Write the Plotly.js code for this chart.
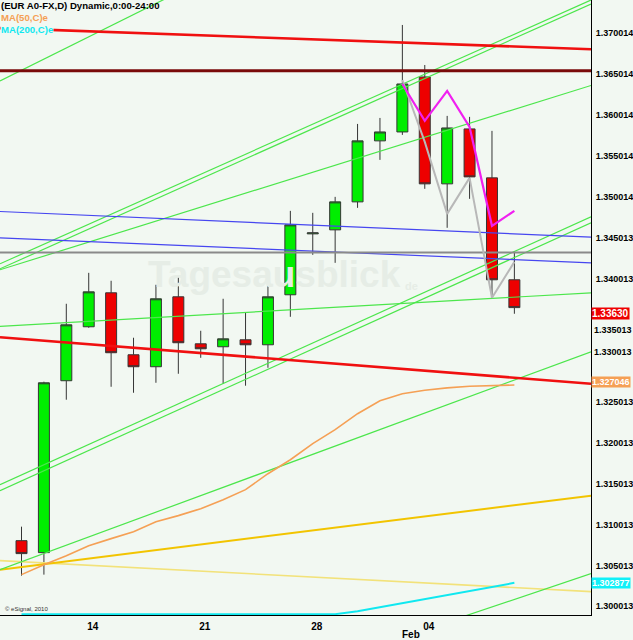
<!DOCTYPE html>
<html>
<head>
<meta charset="utf-8">
<script src="https://cdn.plot.ly/plotly-3.0.1.min.js"></script>
<style>html,body{margin:0;padding:0;background:#f2f8f2;}#chart{width:633px;height:640px;}</style>
</head>
<body>
<div id="chart"></div>
<script>
// ---- Data ----
const days = ["Jan 11","Jan 12","Jan 13","Jan 14","Jan 17","Jan 18","Jan 19","Jan 20","Jan 21","Jan 24","Jan 25","Jan 26","Jan 27","Jan 28","Jan 31","Feb 01","Feb 02","Feb 03","Feb 04","Feb 07","Feb 08","Feb 09","Feb 10"];
const openP  = [1.30803,1.30657,1.32757,1.33416,1.33831,1.33074,1.32928,1.33782,1.33208,1.33172,1.33257,1.33196,1.33807,1.34551,1.34600,1.34942,1.35687,1.35796,1.36468,1.35162,1.35833,1.35235,1.33990];
const highP  = [1.30974,1.32745,1.33697,1.34075,1.33978,1.33282,1.33929,1.34039,1.33367,1.33758,1.33587,1.33965,1.34832,1.34808,1.35003,1.35894,1.35967,1.37103,1.36614,1.35992,1.35980,1.35809,1.34332];
const lowP   = [1.30376,1.30388,1.32525,1.33404,1.32683,1.32610,1.32732,1.32842,1.33037,1.32720,1.32696,1.32915,1.33538,1.34295,1.34197,1.34869,1.35455,1.35760,1.35101,1.34625,1.34979,1.33758,1.33575];
const closeP = [1.30645,1.32732,1.33440,1.33843,1.33099,1.32928,1.33758,1.33221,1.33147,1.33269,1.33196,1.33782,1.34661,1.34563,1.34942,1.35687,1.35796,1.36382,1.35162,1.35845,1.35247,1.33990,1.33650];

const ma50  = [1.30388,1.30510,1.30620,1.30742,1.30828,1.30913,1.31035,1.31109,1.31194,1.31304,1.31426,1.31621,1.31792,1.31988,1.32159,1.32354,1.32513,1.32598,1.32640,1.32670,1.32690,1.32700,1.327046];
const ma200 = [1.29905,1.29905,1.29905,1.29905,1.29905,1.29905,1.29905,1.29905,1.29905,1.29905,1.29905,1.29905,1.29905,1.29905,1.29905,1.29940,1.29989,1.30040,1.30089,1.30141,1.30191,1.30240,1.302877];

const zigDays = ["Feb 03","Feb 04","Feb 07","Feb 08","Feb 09","Feb 10"];
const zigUpper = [1.36382,1.35931,1.36297,1.35857,1.34649,1.34832];
const zigLower = [1.36431,1.35674,1.34795,1.35235,1.33770,1.34209];

// trend lines: [start, end] in bar-index units and price
const lineX        = [-0.96, 25.42];
const redTopY      = [1.37064, 1.36806];
const resistY      = [1.36545, 1.36545];
const redLowY      = [1.33288, 1.32720];
const blueUpY      = [1.34824, 1.34511];
const blueLowY     = [1.34502, 1.34197];
const grayLevelY   = [1.34323, 1.34323];
const greenSteepY  = [1.36419, 1.40008];
const greenB1Y     = [1.34185, 1.37408];
const greenB2Y     = [1.34124, 1.37359];
const greenCY      = [1.34112, 1.36364];
const greenD1Y     = [1.31487, 1.34759];
const greenD2Y     = [1.31414, 1.34686];
const greenEY      = [1.33422, 1.33831];
const greenFY      = [1.30449, 1.33111];
const greenGX      = [19.58, 25.42];
const greenGY      = [1.29863, 1.30400];
const goldUpY      = [1.30449, 1.31353];
const yellowDownY  = [1.30559, 1.30181];

const yTickVals = [1.370014,1.365014,1.360014,1.355014,1.350014,1.345013,1.340013,1.325013,1.320013,1.315013,1.310013,1.305013,1.300013];
const yTickText = ["1.370014","1.365014","1.360014","1.355014","1.350014","1.345013","1.340013","1.325013","1.320013","1.315013","1.310013","1.305013","1.300013"];
// two tick labels the reference nudges away from the value boxes
const yNudgedVals = [1.335013, 1.330013];
const yNudgedText = ["1.335013", "1.330013"];
const xTickDays = ["Jan 14","Jan 21","Jan 28","Feb 04"];
const xTickText = ["14","21","28","04"];

const lastPrice = "1.33630";
const ma50Label = "1.327046";
const ma200Label = "1.302877";

// ---- Build ----
const xi = d => days.indexOf(d);
const barX = days.map(xi);

function seg(x, y, color, width) {
  return {type:'scatter', mode:'lines', x:x, y:y, line:{color:color, width:width}, hoverinfo:'skip'};
}
const G = '#4ce64c';
const traces = [
  seg(lineX, yellowDownY, '#f2e27a', 1.6),
  seg(lineX, goldUpY, '#f2c400', 2),
  seg(lineX, greenSteepY, G, 1.2),
  seg(lineX, greenB1Y, G, 1.2),
  seg(lineX, greenB2Y, G, 1.2),
  seg(lineX, greenCY, G, 1.2),
  seg(lineX, greenD1Y, G, 1.2),
  seg(lineX, greenD2Y, G, 1.2),
  seg(lineX, greenEY, G, 1.2),
  seg(lineX, greenFY, G, 1.2),
  seg(greenGX, greenGY, G, 1.2),
  seg(lineX, blueUpY, '#4646f0', 1.2),
  seg(lineX, blueLowY, '#4646f0', 1.2),
  seg(lineX, grayLevelY, '#8a8a8a', 2),
  seg(lineX, resistY, '#7a0a0a', 3),
  seg(lineX, redTopY, '#f01010', 2.6),
  seg(lineX, redLowY, '#f01010', 2.6),
  seg(barX, ma50, '#f5a055', 1.6),
  seg(barX, ma200, '#10e8f0', 2),
  seg(zigDays.map(xi), zigLower, '#b8b8b8', 2),
  seg(zigDays.map(xi), zigUpper, '#f020f0', 2.2),
  {
    type:'candlestick', x:barX, open:openP, high:highP, low:lowP, close:closeP,
    increasing:{fillcolor:'#00ee00', line:{color:'#353535', width:1}},
    decreasing:{fillcolor:'#ee0000', line:{color:'#353535', width:1}},
    whiskerwidth:0, hoverinfo:'skip'
  }
];

const F = 'Liberation Sans, Arial, sans-serif';
const bg = '#f2f8f2';
const annotations = [
  {xref:'paper', yref:'paper', x:0.465, y:0.553, text:'Tagesausblick', showarrow:false,
   font:{family:F, size:37, color:'#e6ede6', weight:'bold'}},
  {xref:'paper', yref:'paper', x:0.71, y:0.535, text:'de', showarrow:false,
   font:{family:F, size:11, color:'#e6ede6', weight:'bold'}},
  {xref:'paper', yref:'paper', x:0, y:1, yshift:1, xanchor:'left', yanchor:'top', text:'(EUR A0-FX,D) Dynamic,0:00-24:00',
   showarrow:false, borderpad:0, font:{family:F, size:9.6, color:'#000', weight:'bold'}},
  {xref:'paper', yref:'paper', x:0, y:1, yshift:-11, xanchor:'left', yanchor:'top', text:'MA(50,C)e',
   showarrow:false, borderpad:0, font:{family:F, size:9.6, color:'#f5a055', weight:'bold'}},
  {xref:'paper', yref:'paper', x:0, y:1, yshift:-23, xanchor:'left', yanchor:'top', text:'MA(200,C)e',
   showarrow:false, borderpad:0, bgcolor:bg, font:{family:F, size:9.6, color:'#10e8f0', weight:'bold'}},
  {xref:'paper', yref:'paper', x:0.005, y:0, yshift:6, xanchor:'left', yanchor:'middle', text:'© eSignal, 2010',
   showarrow:false, font:{family:F, size:6, color:'#333'}},
  {xref:'x', yref:'paper', x:17.39, y:0, yshift:-19, xanchor:'center', yanchor:'middle', text:'Feb',
   showarrow:false, font:{family:F, size:10, color:'#000', weight:'bold'}},
  {xref:'paper', yref:'y', x:1, xshift:2, y:yNudgedVals[0], yshift:-10, xanchor:'left', yanchor:'middle', text:yNudgedText[0],
   showarrow:false, borderpad:0, font:{family:F, size:9, color:'#000', weight:'bold'}},
  {xref:'paper', yref:'y', x:1, xshift:2, y:yNudgedVals[1], yshift:9, xanchor:'left', yanchor:'middle', text:yNudgedText[1],
   showarrow:false, borderpad:0, font:{family:F, size:9, color:'#000', weight:'bold'}},
  {xref:'paper', yref:'y', x:1, y:parseFloat(lastPrice), yshift:-4, xanchor:'left', yanchor:'middle', text:lastPrice,
   showarrow:false, bgcolor:'#ee0000', borderpad:0, font:{family:F, size:10, color:'#fff', weight:'bold'}},
  {xref:'paper', yref:'y', x:1, y:parseFloat(ma50Label), yshift:3, xanchor:'left', yanchor:'middle', text:ma50Label,
   showarrow:false, bgcolor:'#f5a055', borderpad:0, font:{family:F, size:9, color:'#fff', weight:'bold'}},
  {xref:'paper', yref:'y', x:1, y:parseFloat(ma200Label), xanchor:'left', yanchor:'middle', text:ma200Label,
   showarrow:false, bgcolor:'#10f0f8', borderpad:0, font:{family:F, size:9, color:'#fff', weight:'bold'}}
];

const layout = {
  width:633, height:640,
  margin:{l:0, r:42, t:0, b:25, pad:0},
  paper_bgcolor:bg, plot_bgcolor:bg,
  showlegend:false,
  xaxis:{type:'linear', range:[-0.96, 25.42], rangeslider:{visible:false}, showgrid:false, zeroline:false,
    showline:true, linecolor:'#000', linewidth:1, ticks:'', tickmode:'array',
    tickvals:xTickDays.map(xi), ticktext:xTickText, ticklabelshift:4, ticklabelstandoff:2,
    tickfont:{family:F, size:10, color:'#000', weight:'bold'}, fixedrange:true},
  yaxis:{side:'right', range:[1.29895, 1.374079], showgrid:false, zeroline:false,
    showline:true, linecolor:'#000', linewidth:1, ticks:'', tickmode:'array',
    tickvals:yTickVals, ticktext:yTickText, ticklabelstandoff:2,
    tickfont:{family:F, size:9, color:'#000', weight:'bold'}, fixedrange:true},
  annotations:annotations
};

Plotly.newPlot('chart', traces, layout, {staticPlot:true, displayModeBar:false});
</script>
</body>
</html>
